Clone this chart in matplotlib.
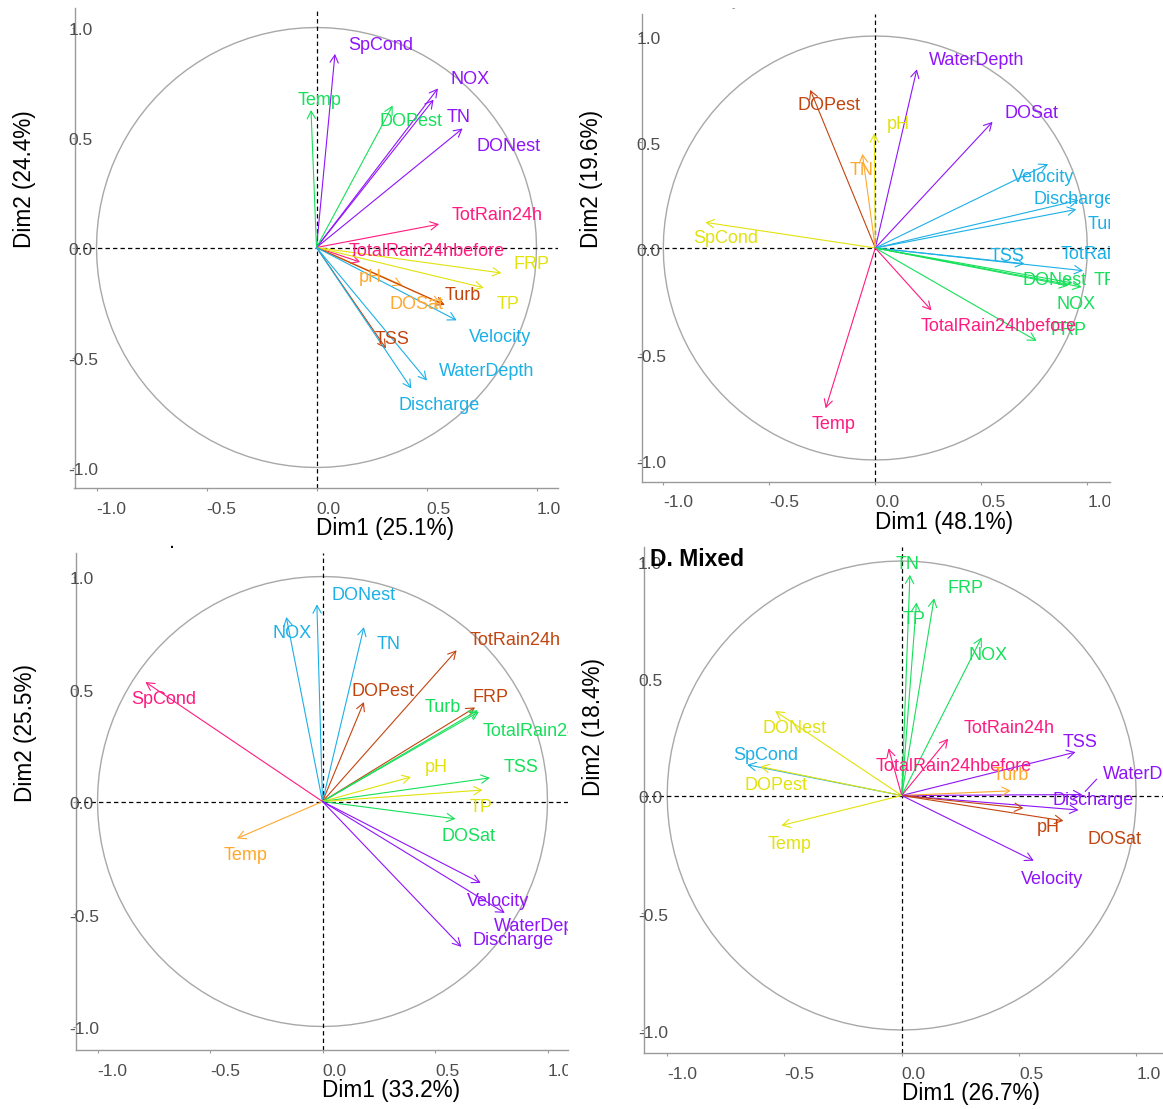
import matplotlib
matplotlib.use('Agg')
import matplotlib.pyplot as plt
import numpy as np
from matplotlib.transforms import (Bbox, TransformedBbox, ScaledTranslation,
                                   blended_transform_factory as blend)

# ---------------------------------------------------------------- data
TICKS = [-1.0, -0.5, 0.0, 0.5, 1.0]
TICK_LABELS = ['-1.0', '-0.5', '0.0', '0.5', '1.0']

# Panel A
a_names = ['SpCond', 'NOX', 'TN', 'DONest', 'DOPest', 'Temp', 'TotRain24h',
           'TotalRain24hbefore', 'FRP', 'TP', 'pH', 'DOSat', 'Turb', 'TSS',
           'Velocity', 'WaterDepth', 'Discharge']
a_dim1 = [0.084, 0.552, 0.532, 0.664, 0.346, -0.025, 0.557, 0.198, 0.840, 0.760,
          0.389, 0.565, 0.583, 0.316, 0.637, 0.502, 0.431]
a_dim2 = [0.880, 0.723, 0.672, 0.541, 0.645, 0.625, 0.106, -0.066, -0.116, -0.183,
          -0.172, -0.255, -0.261, -0.459, -0.331, -0.605, -0.641]
a_group = ['purple', 'purple', 'purple', 'purple', 'green', 'green', 'pink', 'pink',
           'yellow', 'yellow', 'orange', 'orange', 'brown', 'brown', 'blue', 'blue', 'blue']
a_label_x = [0.144, 0.608, 0.591, 0.726, 0.287, -0.088, 0.613, 0.144, 0.895, 0.819,
             0.194, 0.330, 0.583, 0.262, 0.693, 0.557, 0.372]
a_label_y = [0.927, 0.775, 0.598, 0.469, 0.583, 0.677, 0.156, -0.011, -0.066, -0.250,
             -0.128, -0.250, -0.209, -0.409, -0.402, -0.553, -0.709]
a_xtitle, a_ytitle = 'Dim1 (25.1%)', 'Dim2 (24.4%)'

# Panel B
b_names = ['WaterDepth', 'DOSat', 'DOPest', 'pH', 'TN', 'SpCond', 'Velocity',
           'Discharge', 'Turb', 'TSS', 'TotRain24h', 'DONest', 'TP', 'NOX', 'FRP',
           'TotalRain24hbefore', 'Temp']
b_dim1 = [0.196, 0.553, -0.307, -0.005, -0.061, -0.802, 0.815, 0.958, 0.948, 0.703,
          0.980, 0.910, 0.973, 0.930, 0.761, 0.265, -0.234]
b_dim2 = [0.843, 0.595, 0.746, 0.541, 0.444, 0.121, 0.396, 0.225, 0.182, -0.074,
          -0.107, -0.178, -0.184, -0.165, -0.438, -0.294, -0.756]
b_group = ['purple', 'purple', 'brown', 'yellow', 'orange', 'yellow', 'blue', 'blue',
           'blue', 'blue', 'blue', 'green', 'green', 'green', 'green', 'pink', 'pink']
b_label_x = [0.254, 0.611, -0.368, 0.053, -0.123, -0.860, 0.645, 0.745, 1.002, 0.538,
             0.872, 0.694, 1.031, 0.855, 0.825, 0.212, -0.298]
b_label_y = [0.892, 0.646, 0.683, 0.594, 0.375, 0.052, 0.341, 0.240, 0.119, -0.031,
             -0.020, -0.146, -0.146, -0.255, -0.380, -0.361, -0.824]
b_xtitle, b_ytitle = 'Dim1 (48.1%)', 'Dim2 (19.6%)'

# Panel C
c_names = ['DONest', 'NOX', 'TN', 'TotRain24h', 'DOPest', 'FRP', 'Turb',
           'TotalRain24hbefore', 'SpCond', 'pH', 'TSS', 'TP', 'DOSat', 'Temp',
           'Velocity', 'WaterDepth', 'Discharge']
c_dim1 = [-0.025, -0.161, 0.184, 0.596, 0.184, 0.678, 0.690, 0.695, -0.787, 0.393,
          0.744, 0.711, 0.591, -0.380, 0.703, 0.810, 0.617]
c_dim2 = [0.876, 0.820, 0.775, 0.672, 0.442, 0.418, 0.405, 0.399, 0.531, 0.109,
          0.105, 0.051, -0.077, -0.164, -0.362, -0.495, -0.646]
c_group = ['blue', 'blue', 'blue', 'brown', 'brown', 'brown', 'green', 'green', 'pink',
           'yellow', 'green', 'yellow', 'green', 'orange', 'purple', 'purple', 'purple']
c_label_x = [0.040, -0.222, 0.239, 0.653, 0.127, 0.667, 0.456, 0.711, -0.848, 0.453,
             0.805, 0.654, 0.530, -0.441, 0.640, 0.760, 0.667]
c_label_y = [0.924, 0.756, 0.707, 0.723, 0.498, 0.469, 0.426, 0.322, 0.463, 0.158,
             0.161, -0.016, -0.145, -0.233, -0.434, -0.547, -0.611]
c_xtitle, c_ytitle = 'Dim1 (33.2%)', 'Dim2 (25.5%)'

# Panel D
d_names = ['TN', 'TP', 'FRP', 'NOX', 'TotRain24h', 'TotalRain24hbefore', 'TSS',
           'WaterDepth', 'Turb', 'Discharge', 'pH', 'DOSat', 'Velocity', 'DONest',
           'SpCond', 'DOPest', 'Temp']
d_dim1 = [0.035, 0.063, 0.138, 0.341, 0.198, -0.056, 0.741, 0.770, 0.465, 0.754,
          0.519, 0.690, 0.563, -0.540, -0.659, -0.603, -0.513]
d_dim2 = [0.941, 0.823, 0.841, 0.674, 0.242, 0.201, 0.185, 0.004, 0.020, -0.062,
          -0.054, -0.108, -0.278, 0.360, 0.131, 0.123, -0.128]
d_group = ['green', 'green', 'green', 'green', 'pink', 'pink', 'purple', 'purple',
           'orange', 'purple', 'brown', 'brown', 'purple', 'yellow', 'blue', 'yellow',
           'yellow']
d_label_x = [-0.024, 0.005, 0.195, 0.286, 0.262, -0.111, 0.687, 0.857, 0.389, 0.643,
             0.576, 0.794, 0.508, -0.595, -0.719, -0.670, -0.571]
d_label_y = [0.995, 0.761, 0.892, 0.606, 0.293, 0.134, 0.236, 0.097, 0.093, -0.011,
             -0.128, -0.181, -0.350, 0.293, 0.177, 0.051, -0.201]
d_repel_segments = ['WaterDepth']
d_xtitle, d_ytitle = 'Dim1 (26.7%)', 'Dim2 (18.4%)'
d_title = 'D. Mixed'

# ---------------------------------------------------------------- style
PALETTE = {
    'purple': '#8F14FA',
    'green': '#16E05A',
    'pink': '#FF1A80',
    'yellow': '#E2E20C',
    'orange': '#FFA82E',
    'brown': '#C2440F',
    'blue': '#1CB0E6',
}
AXIS_GREY = '#9A9A9A'
CIRCLE_GREY = '#A8A8A8'
TICK_GREY = '#4D4D4D'

W, H, DPI = 1163, 1109, 100
plt.rcParams['font.family'] = ['Liberation Sans', 'DejaVu Sans']

fig = plt.figure(figsize=(W / DPI, H / DPI), dpi=DPI)
fig.patch.set_facecolor('white')


def off(dx, dy):
    return ScaledTranslation(dx / DPI, dy / DPI, fig.dpi_scale_trans)


def draw_panel(layout, clip_x, names, d1, d2, groups, lx, ly, xtitle, ytitle,
               segments=(), title=None):
    left, right, top, bottom, cx, cy, s = layout
    ax = fig.add_axes([left / W, 1 - bottom / H, (right - left) / W, (bottom - top) / H])
    ax.set_xlim((left - cx) / s, (right - cx) / s)
    ax.set_ylim((cy - bottom) / s, (cy - top) / s)
    ax.set_facecolor('none')
    for sp in ['top', 'right']:
        ax.spines[sp].set_visible(False)
    for sp in ['left', 'bottom']:
        ax.spines[sp].set_color(AXIS_GREY)
        ax.spines[sp].set_linewidth(1.0)
    ax.set_xticks(TICKS)
    ax.set_yticks(TICKS)
    ax.tick_params(length=2.3, width=0.8, color=AXIS_GREY,
                   labelbottom=False, labelleft=False)

    cb = TransformedBbox(Bbox.from_extents(clip_x[0] / W, 0, clip_x[1] / W, 1),
                         fig.transFigure)

    def ftext(x, y, s_, transform, **kw):
        t = fig.text(x, y, s_, transform=transform, **kw)
        t.set_clip_box(cb)
        t.set_clip_on(True)
        return t

    # tick labels (left aligned at the tick)
    for tv, tl in zip(TICKS, TICK_LABELS):
        ftext(tv, 0, tl, blend(ax.transData, ax.transAxes) + off(0, -25.5),
              ha='left', va='baseline', fontsize=12.5, color=TICK_GREY)
        ftext(0, tv, tl, blend(ax.transAxes, ax.transData) + off(-6, -7.8),
              ha='left', va='baseline', fontsize=12.5, color=TICK_GREY)

    # axis titles
    ftext(0, 0, xtitle, blend(ax.transData, ax.transAxes) + off(0, -47),
          ha='left', va='baseline', fontsize=16.3, color='black')
    fig.text(0, 0, ytitle, transform=blend(ax.transAxes, ax.transData) + off(-44, 0),
             rotation=90, rotation_mode='anchor', ha='left', va='baseline',
             fontsize=16.3, color='black')

    # correlation circle and reference lines
    th = np.linspace(0, 2 * np.pi, 101)
    ax.plot(np.cos(th), np.sin(th), color=CIRCLE_GREY, lw=1.0, zorder=1)
    ax.axhline(0, color='black', lw=0.9, ls=(0, (3.5, 2.5)), zorder=2)
    ax.axvline(0, color='black', lw=0.9, ls=(0, (3.5, 2.5)), zorder=2)

    # arrows
    for x, y, g in zip(d1, d2, groups):
        ax.annotate('', xy=(x, y), xytext=(0, 0),
                    arrowprops=dict(arrowstyle='->,head_length=0.55,head_width=0.3',
                                    color=PALETTE[g], lw=0.8, shrinkA=0, shrinkB=0,
                                    mutation_scale=10),
                    zorder=3)
    # repel segments
    for n, x, y, g, tx, ty in zip(names, d1, d2, groups, lx, ly):
        if n in segments:
            ax.plot([x + 0.15 * (tx - x), x + 0.7 * (tx - x)],
                    [y + 0.15 * (ty - y), y + 0.7 * (ty - y)],
                    color=PALETTE[g], lw=0.8, zorder=3)
    # labels
    for n, g, tx, ty in zip(names, groups, lx, ly):
        ax.text(tx, ty, n, transform=ax.transData + off(0, -6.5), ha='left',
                va='baseline', fontsize=13, color=PALETTE[g], clip_on=True, zorder=4)

    if title:
        fig.text(0, 1, title, transform=ax.transAxes + off(6, -19.3), ha='left',
                 va='baseline', fontsize=16.5, fontweight='bold', color='black')
    return ax


draw_panel((74.5, 557.5, 7.75, 488.3, 316.5, 247.5, 220.0), (0, 580),
           a_names, a_dim1, a_dim2, a_group, a_label_x, a_label_y, a_xtitle, a_ytitle)
draw_panel((642.3, 1110.0, 14.0, 481.7, 875.3, 248.0, 212.0), (580, 1110),
           b_names, b_dim1, b_dim2, b_group, b_label_x, b_label_y, b_xtitle, b_ytitle)
draw_panel((75.7, 568.0, 553.3, 1050.0, 322.5, 801.5, 225.0), (0, 568),
           c_names, c_dim1, c_dim2, c_group, c_label_x, c_label_y, c_xtitle, c_ytitle)
draw_panel((644.0, 1163.0, 546.7, 1053.3, 901.7, 795.5, 234.5), (580, 1163),
           d_names, d_dim1, d_dim2, d_group, d_label_x, d_label_y, d_xtitle, d_ytitle,
           segments=d_repel_segments, title=d_title)

# remnants of cropped panel titles
fig.text(171.7 / W, 1 - 548.5 / H, '.', ha='center', va='baseline', fontsize=10,
         fontweight='bold', color='black')
fig.text(733 / W, 1 - 11.5 / H, '-', ha='center', va='baseline', fontsize=7,
         color='#777777')

fig.savefig('out.png', dpi=DPI, facecolor='white')
